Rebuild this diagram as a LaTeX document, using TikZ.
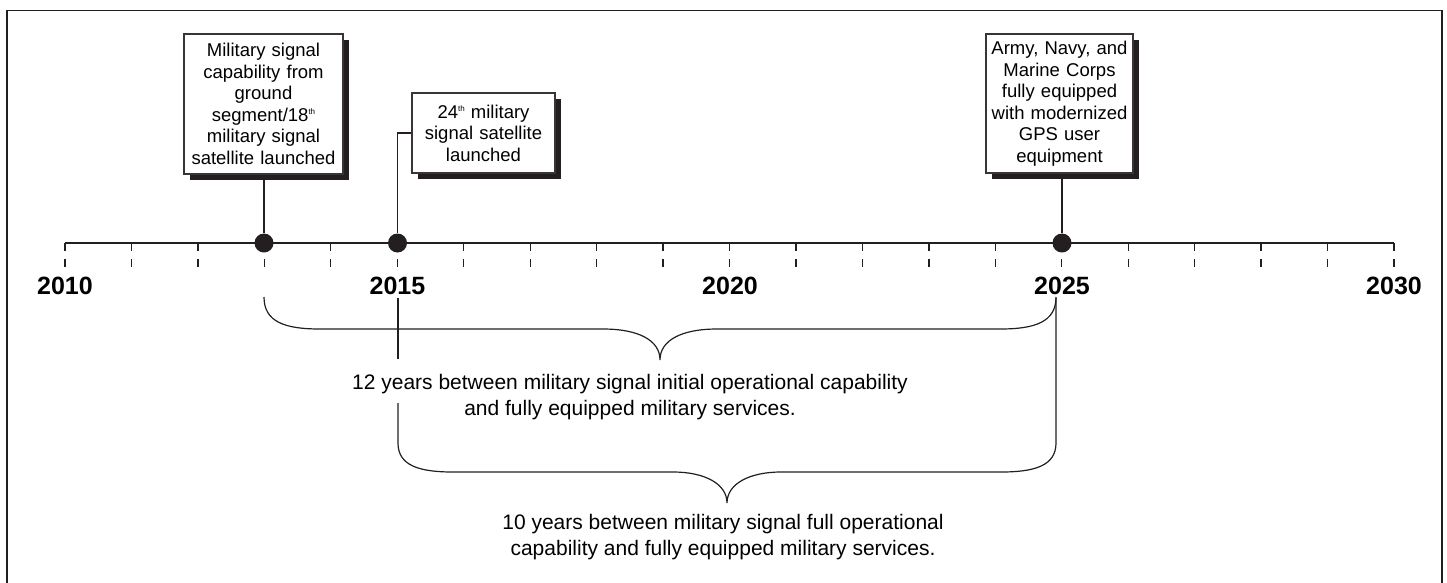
\documentclass[tikz,border=0pt]{standalone}
\usepackage{fontspec}
\setmainfont{Liberation Sans}
\usetikzlibrary{shadows}
\definecolor{ink}{HTML}{231F20}
\newcommand\sups[1]{\raisebox{7pt}{\fontsize{8}{8}\selectfont #1}}
\begin{document}
\begin{tikzpicture}[x=1pt,y=-1pt,
  frame/.style={draw=ink, line width=1.5pt},
  axisline/.style={draw=ink, line width=2.2pt},
  tickline/.style={draw=ink, line width=1.3pt, dash pattern=on 8pt off 8pt},
  yearlabel/.style={font=\fontsize{25}{25}\selectfont\bfseries, inner sep=0pt, text=black},
  evbox/.style={draw=ink!90, line width=1.3pt, fill=white, align=center, inner xsep=4pt, inner ysep=0pt,
    font=\fontsize{18.5}{21.5}\selectfont,
    drop shadow={shadow xshift=6pt, shadow yshift=-6pt, opacity=1, fill=ink}},
  evdot/.style={circle, fill=ink, inner sep=0pt, minimum size=19pt},
  conn/.style={draw=ink, line width=1.2pt},
  bracel/.style={draw=ink, line width=1.2pt},
  note/.style={align=center, inner sep=0pt, font=\fontsize{21}{26}\selectfont}
]
\useasboundingbox (0,0) rectangle (1447,582);
\draw[frame] (7,584) -- (7,10.5) -- (1442,10.5) -- (1442,584);

% ticks
\foreach \i in {0,...,20} {
  \draw[tickline] ({65+\i*66.45},243) -- ({65+\i*66.45},268);
}
% axis
\coordinate (axL) at (65,243);
\coordinate (axR) at (1394,243);
\draw[axisline] (axL) -- (axR);

% year labels
\foreach \yr/\xx in {2010/65, 2015/397.5, 2020/730, 2025/1062, 2030/1394} {
  \node[yearlabel] (y\yr) at (\xx,286) {\yr};
}

% event dots
\node[evdot] (d1) at (264,243) {};
\node[evdot] (d2) at (397.5,243) {};
\node[evdot] (d3) at (1062,243) {};

% event boxes
\node[evbox, minimum width=159pt, text width=151pt, minimum height=140pt] (b1) at (263.5,104)
  {Military signal\\capability from\\ground\\segment/18\sups{th}\\military signal\\satellite launched};
\node[evbox, minimum width=143pt, text width=135pt, minimum height=80pt] (b2) at (483.5,133)
  {24\sups{th} military\\signal satellite\\launched};
\node[evbox, minimum width=147pt, text width=139pt, minimum height=139pt] (b3) at (1059.5,103.5)
  {Army, Navy, and\\Marine Corps\\fully equipped\\with modernized\\GPS user\\equipment};

% connectors
\draw[conn] (b1.south -| d1) -- (d1.north);
\draw[conn] (b2.west) -| (d2.north);
\draw[conn] (b3.south -| d3) -- (d3.north);

% brace 1
\coordinate (p1L) at (264,297);
\coordinate (p1R) at (1056,297);
\coordinate (p1T) at (660,360);
\draw[bracel] (p1L) .. controls (264,322) and (285,329) .. (320,329) -- (603,329)
  .. controls (638,329) and (660,340) .. (p1T)
  .. controls (660,340) and (682,329) .. (717,329) -- (1000,329)
  .. controls (1035,329) and (1056,322) .. (p1R);

% brace 2
\coordinate (p2La) at (398,298);
\coordinate (p2Lb) at (398,359);
\coordinate (p2Lc) at (398,403);
\coordinate (p2R) at (1056,298);
\coordinate (p2T) at (727,503);
\draw[bracel] (p2La) -- (p2Lb);
\draw[bracel] (p2Lc) -- (398,443) .. controls (398,466) and (420,472) .. (453,472) -- (673,472)
  .. controls (705,472) and (727,484) .. (p2T)
  .. controls (727,484) and (749,472) .. (781,472) -- (1001,472)
  .. controls (1034,472) and (1056,466) .. (1056,443) -- (p2R);

% notes
\node[note] (t1) at (630,397.5) {12 years between military signal initial operational capability\\and fully equipped military services.};
\node[note] (t2) at (723,537.5) {10 years between military signal full operational\\capability and fully equipped military services.};
\end{tikzpicture}
\end{document}
